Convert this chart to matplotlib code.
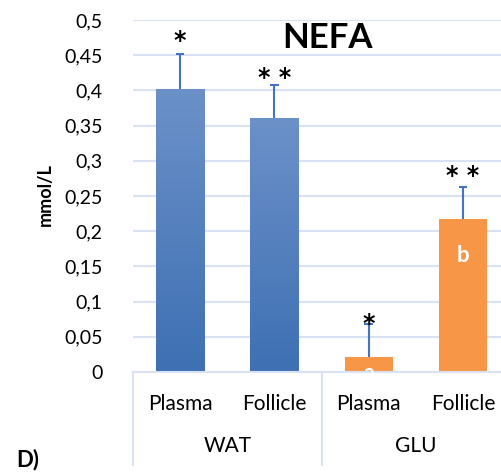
import numpy as np
import matplotlib.pyplot as plt
from matplotlib.colors import LinearSegmentedColormap

plt.rcParams['font.family'] = ['Lato', 'DejaVu Sans']

# data
groups = ['WAT', 'GLU']
samples = ['Plasma', 'Follicle', 'Plasma', 'Follicle']
values = [0.402, 0.361, 0.021, 0.217]
errors = [0.050, 0.046, 0.047, 0.046]
stars = ['*', '* *', '*', '* *']
star_y = [0.47, 0.418, 0.068, 0.278]
letters = ['', '', 'a', 'b']
letter_y = [0, 0, -0.002, 0.165]
yticks = [0, 0.05, 0.1, 0.15, 0.2, 0.25, 0.3, 0.35, 0.4, 0.45, 0.5]

grid_col = '#D9E2F3'
blue_cmap = LinearSegmentedColormap.from_list('wat', ['#3E70B3', '#6C91C9'])

W, H = 502, 474
fig = plt.figure(figsize=(W / 100, H / 100), dpi=100)
# plot area runs a little past the right edge, like the source
ax = fig.add_axes([133 / W, 1 - 372 / H, (510 - 133) / W, (372 - 20) / H])

x = np.arange(len(values))
colors = ['#4A7CBD', '#4A7CBD', '#F79646', '#F79646']
bars = ax.bar(x, values, width=0.51, color=colors, zorder=2)

# vertical gradient on the WAT bars
for b in bars[:2]:
    x0, w, h = b.get_x(), b.get_width(), b.get_height()
    grad = np.linspace(0, 1, 100).reshape(-1, 1)
    im = ax.imshow(grad, cmap=blue_cmap, origin='lower', aspect='auto',
                   extent=[x0, x0 + w, 0, h], zorder=2.5)
    im.set_clip_path(b)

# upper error bars only
tops = np.array(values) + np.array(errors)
ax.vlines(x, values, tops, color='#4472C4', lw=1.5, zorder=3)
ax.hlines(tops, x - 0.045, x + 0.045, color='#4472C4', lw=1.5, zorder=3)

for xi, s, sy in zip(x, stars, star_y):
    ax.text(xi, sy, s, ha='center', va='center', fontsize=17, fontweight='bold',
            family='DejaVu Sans')
for xi, l, ly in zip(x, letters, letter_y):
    if l:
        ax.text(xi, ly, l, ha='center', va='center', fontsize=16,
                fontweight='bold', color='white', zorder=4)

ax.set_xlim(-0.5, 3.5)
ax.set_ylim(0, 0.5)
ax.set_yticks(yticks)
ax.set_yticklabels([f'{t:g}'.replace('.', ',') for t in yticks], fontsize=14)
ax.yaxis.grid(True, color=grid_col, linewidth=1.5, zorder=0)
ax.set_axisbelow(True)
ax.tick_params(axis='y', length=0, pad=22)
ax.tick_params(axis='x', length=0)
ax.set_xticks([])
for sp in ['top', 'right', 'left']:
    ax.spines[sp].set_visible(False)
ax.spines['bottom'].set_color(grid_col)
ax.spines['bottom'].set_linewidth(1.5)

# two-level category axis below the plot
tr = ax.get_xaxis_transform()
for xi, s in zip(x, samples):
    ax.text(xi, -0.09, s, transform=tr, ha='center', va='center', fontsize=15)
for gi, g in enumerate(groups):
    ax.text(gi * 2 + 0.5, -0.21, g, transform=tr, ha='center', va='center', fontsize=15)
for xs in [-0.5, 1.5, 3.5]:
    ax.plot([xs, xs], [0, -0.265], transform=tr, color=grid_col, lw=1.5, clip_on=False)

fig.text(328 / W, 1 - 38 / H, 'NEFA', ha='center', va='center', fontsize=25, fontweight='bold')
fig.text(45 / W, 1 - 195 / H, 'mmol/L', ha='center', va='center', rotation=90,
         fontsize=13, fontweight='bold')
fig.text(28 / W, 1 - 460 / H, 'D)', ha='center', va='center', fontsize=16, fontweight='bold')

fig.savefig('out.png', dpi=100)
